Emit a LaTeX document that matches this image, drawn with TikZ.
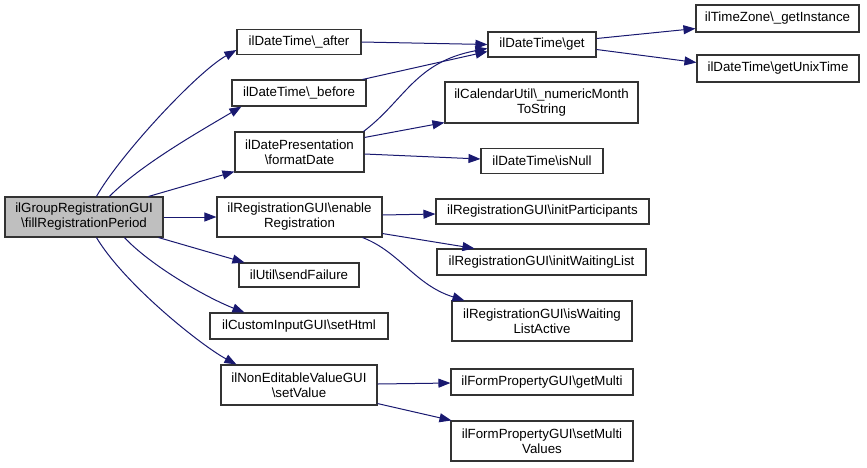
\documentclass[tikz,border=0pt]{standalone}
\usepackage{fontspec}
\setmainfont{Liberation Sans}
\usetikzlibrary{calc,arrows.meta}
\definecolor{edgeblue}{HTML}{191970}
\definecolor{mainfill}{HTML}{BFBFBF}
\definecolor{boxline}{HTML}{333333}
\begin{document}
\begin{tikzpicture}[x=1pt,y=-1pt,
  fn/.style={draw=boxline,line width=1.1pt,fill=white,rectangle,inner sep=0pt,align=center,
    font=\fontsize{13.3}{15}\selectfont},
  call/.style={draw=edgeblue,line width=1pt,-{Triangle[length=12pt,width=9pt]},fill=none}]
\useasboundingbox (0,0) rectangle (867,467);
\node[fn,fill=mainfill,minimum width=158pt,minimum height=40pt] (main) at (84,217) {ilGroupRegistrationGUI\\\textbackslash fillRegistrationPeriod};
\node[fn,minimum width=124pt,minimum height=25pt] (after) at (299,42) {ilDateTime\textbackslash\_after};
\node[fn,minimum width=134pt,minimum height=26pt] (before) at (299,93) {ilDateTime\textbackslash\_before};
\node[fn,minimum width=108pt,minimum height=25pt] (get) at (542,44.5) {ilDateTime\textbackslash get};
\node[fn,minimum width=193pt,minimum height=41pt] (month) at (541.5,102.5) {ilCalendarUtil\textbackslash\_numericMonth\\ToString};
\node[fn,minimum width=163pt,minimum height=27pt] (tz) at (777.5,18.5) {ilTimeZone\textbackslash\_getInstance};
\node[fn,minimum width=162pt,minimum height=27pt] (unix) at (778,68.5) {ilDateTime\textbackslash getUnixTime};
\node[fn,minimum width=129pt,minimum height=40pt] (fmt) at (299.5,152) {ilDatePresentation\\\textbackslash formatDate};
\node[fn,minimum width=122pt,minimum height=25pt] (null) at (542,161) {ilDateTime\textbackslash isNull};
\node[fn,minimum width=165pt,minimum height=40pt] (enable) at (299.5,217) {ilRegistrationGUI\textbackslash enable\\Registration};
\node[fn,minimum width=213pt,minimum height=25pt] (part) at (542.5,211.5) {ilRegistrationGUI\textbackslash initParticipants};
\node[fn,minimum width=209pt,minimum height=26pt] (wait) at (541.5,262) {ilRegistrationGUI\textbackslash initWaitingList};
\node[fn,minimum width=120pt,minimum height=24pt] (fail) at (299,275) {ilUtil\textbackslash sendFailure};
\node[fn,minimum width=178pt,minimum height=26pt] (html) at (299,326) {ilCustomInputGUI\textbackslash setHtml};
\node[fn,minimum width=180pt,minimum height=40pt] (active) at (542,321) {ilRegistrationGUI\textbackslash isWaiting\\ListActive};
\node[fn,minimum width=156pt,minimum height=40pt] (setval) at (299,385) {ilNonEditableValueGUI\\\textbackslash setValue};
\node[fn,minimum width=182pt,minimum height=26pt] (multi) at (542,382) {ilFormPropertyGUI\textbackslash getMulti};
\node[fn,minimum width=182pt,minimum height=40pt] (multiv) at (542,441) {ilFormPropertyGUI\textbackslash setMulti\\Values};

% edges from main
\draw[call] ($(main.north west)+(92,0)$) .. controls (120,155) and (197,72) .. ($(after.west)+(0,8)$);
\draw[call] ($(main.north west)+(105,0)$) .. controls (140,165) and (202,130) .. ($(before.south west)+(10,0)$);
\draw[call] ($(main.north east)+(-15,0)$) -- ($(fmt.south west)+(0,-1)$);
\draw[call] (main.east) -- (enable.west);
\draw[call] ($(main.south east)+(-5,0)$) -- ($(fail.north west)+(6,0)$);
\draw[call] ($(main.south west)+(120,0)$) .. controls (150,265) and (205,297) .. ($(html.north west)+(35,0)$);
\draw[call] ($(main.south west)+(92,0)$) .. controls (125,285) and (202,346) .. ($(setval.north west)+(16,0)$);
% second level
\draw[call] (after.east) -- (get.west);
\draw[call] ($(before.north east)+(-4,0)$) -- ($(get.west)+(0,7)$);
\draw[call] ($(fmt.north east)+(-1,0)$) .. controls (405,100) and (415,62) .. ($(get.west)+(0,4)$);
\draw[call] ($(fmt.north east)+(0,6)$) -- ($(month.south west)+(0,-1)$);
\draw[call] ($(fmt.east)+(0,2)$) -- ($(null.west)+(0,-2)$);
\draw[call] ($(get.east)+(0,-6)$) -- ($(tz.south west)+(0,-4)$);
\draw[call] ($(get.east)+(0,5)$) -- ($(unix.west)+(0,-6)$);
\draw[call] ($(enable.east)+(0,-2)$) -- ($(part.west)+(0,2.5)$);
\draw[call] ($(enable.south east)+(0,-4)$) -- ($(wait.north west)+(38,0)$);
\draw[call] ($(enable.south east)+(-20,0)$) .. controls (400,252) and (415,285) .. ($(active.north west)+(13,0)$);
\draw[call] ($(setval.east)+(0,-1)$) -- ($(multi.west)+(0,1)$);
\draw[call] ($(setval.south east)+(0,-2)$) -- ($(multiv.north west)+(1,0)$);
\end{tikzpicture}
\end{document}
